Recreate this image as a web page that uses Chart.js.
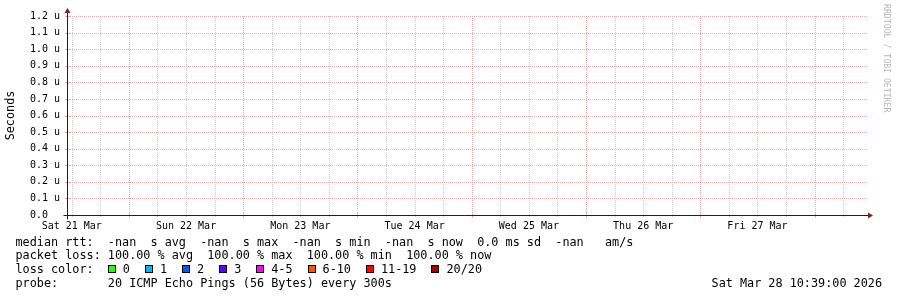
<!DOCTYPE html>
<html><head><meta charset="utf-8">
<script src="https://cdn.jsdelivr.net/npm/chart.js@4/dist/chart.umd.min.js"></script>
<style>html,body{margin:0;padding:0;background:#fff;}canvas{display:block}</style>
</head><body>
<canvas id="c" width="897" height="297"></canvas>
<script>
// ---- data (hours since Sat 21 Mar 11:00) ----
const xMinHour = 0;
const xMaxHour = 168;
const xTickHours = [1,7,13,19,25,31,37,43,49,55,61,67,73,79,85,91,97,103,109,115,121,127,133,139,145,151,157,163];
const xMajorHours = [13,37,61,85,109,133,157];
const xLabelHours = [1,25,49,73,97,121,145];
const xDayLabels = ['Sat 21 Mar','Sun 22 Mar','Mon 23 Mar','Tue 24 Mar','Wed 25 Mar','Thu 26 Mar','Fri 27 Mar'];
const yTickValues = [0,0.1,0.2,0.3,0.4,0.5,0.6,0.7,0.8,0.9,1.0,1.1,1.2];
const yTickLabels = ['0.0  ','0.1 u','0.2 u','0.3 u','0.4 u','0.5 u','0.6 u','0.7 u','0.8 u','0.9 u','1.0 u','1.1 u','1.2 u'];
// no valid samples in the period (100% packet loss) -> empty series
const rttHours = [];
const medianRtt = [];
const rttStatNames = ['avg','max','min','now'];
const rttStats = ['-nan','-nan','-nan','-nan'];
const sdText = '0.0 ms sd';
const amsText = '-nan   am/s';
const lossStats = ['100.00','100.00','100.00','100.00'];
const lossLabels = ['0','1','2','3','4-5','6-10','11-19','20/20'];
const lossColors = ['#26ff00','#00b8ff','#0059ff','#5e00ff','#ff00ff','#ff5500','#ff0000','#a10000'];
const probeText = '20 ICMP Echo Pings (56 Bytes) every 300s';
const stampText = 'Sat Mar 28 10:39:00 2026';
const watermark = 'RRDTOOL / TOBI OETIKER';

const MONO = '"DejaVu Sans Mono", monospace';
const GRID = 'rgb(204,204,204)';
const MGRID = 'rgb(239,172,172)';
const AXIS = '#1f1f1f';
const ARROW = 'rgb(128,31,31)';

function dotsV(ctx, x, y0, y1, color) {
  ctx.fillStyle = color;
  for (let yy = y1; yy >= y0; yy -= 2) ctx.fillRect(x, yy, 1, 1);
}
function dotsH(ctx, y, x0, x1, color) {
  ctx.fillStyle = color;
  for (let xx = x0; xx <= x1; xx += 2) ctx.fillRect(xx, y, 1, 1);
}

const rrdPlugin = {
  id: 'rrd',
  beforeDatasetsDraw(chart) {
    const {ctx, chartArea: a, scales: {x, y}} = chart;
    ctx.save();
    const top = Math.round(a.top), bot = Math.round(a.bottom), left = Math.round(a.left), right = Math.round(a.right);
    // vertical grid
    xTickHours.forEach(h => {
      const px = Math.round(x.getPixelForValue(h));
      const major = xMajorHours.includes(h);
      const col = major ? MGRID : GRID;
      dotsV(ctx, px, top, bot - 1, col);
      const t = major ? 2 : 1;
      ctx.fillStyle = col;
      ctx.fillRect(px, bot - t, 1, 2 * t + 1);
    });
    // horizontal grid
    yTickValues.forEach(v => {
      const py = Math.round(y.getPixelForValue(v));
      dotsH(ctx, py, left + 1, right, MGRID);
      ctx.fillStyle = MGRID;
      ctx.fillRect(left - 2, py, 5, 1);
    });
    ctx.restore();
  },
  afterDraw(chart) {
    const {ctx, chartArea: a, scales: {x, y}} = chart;
    ctx.save();
    const ox = Math.round(x.getPixelForValue(xMinHour)) + 0.5;
    const oy = Math.round(y.getPixelForValue(0)) + 0.5;
    const xr = Math.round(x.getPixelForValue(xMaxHour));
    const yt = Math.round(y.getPixelForValue(yTickValues[yTickValues.length - 1]));
    ctx.strokeStyle = AXIS; ctx.lineWidth = 1; ctx.setLineDash([]);
    ctx.beginPath(); ctx.moveTo(ox - 4, oy); ctx.lineTo(xr + 1, oy); ctx.stroke();
    ctx.beginPath(); ctx.moveTo(ox, oy + 4); ctx.lineTo(ox, yt - 3); ctx.stroke();
    ctx.fillStyle = ARROW;
    ctx.beginPath(); ctx.moveTo(xr + 1, oy - 3); ctx.lineTo(xr + 1, oy + 3); ctx.lineTo(xr + 6, oy); ctx.closePath(); ctx.fill();
    ctx.beginPath(); ctx.moveTo(ox - 3, yt - 3); ctx.lineTo(ox + 3, yt - 3); ctx.lineTo(ox, yt - 8); ctx.closePath(); ctx.fill();

    // watermark
    ctx.save();
    ctx.translate(886.5, 4);
    ctx.rotate(Math.PI / 2);
    ctx.font = '8.2px ' + MONO;
    ctx.fillStyle = 'rgba(0,0,0,0.3)';
    ctx.textAlign = 'left'; ctx.textBaseline = 'middle';
    ctx.fillText(watermark, 0, 0);
    ctx.restore();

    // legend
    ctx.font = '11.8px ' + MONO;
    ctx.fillStyle = '#000';
    ctx.textAlign = 'left'; ctx.textBaseline = 'alphabetic';
    const lx = 15.5;
    const rows = [245.5, 259.3, 273.1, 286.9];
    const row1 = 'median rtt:  ' + rttStats.map((v, i) => v + '  s ' + rttStatNames[i]).join('  ') + '  ' + sdText + '  ' + amsText;
    const row2 = 'packet loss: ' + lossStats.map((v, i) => v + ' % ' + rttStatNames[i]).join('  ');
    ctx.fillText(row1, lx, rows[0]);
    ctx.fillText(row2, lx, rows[1]);
    ctx.fillText('loss color:', lx, rows[2]);
    let cx = lx + ctx.measureText('loss color:  ').width;
    lossLabels.forEach((lab, i) => {
      const bx = Math.round(cx);
      ctx.fillStyle = lossColors[i];
      ctx.fillRect(bx, Math.round(rows[2] - 8), 8, 8);
      ctx.strokeStyle = '#000';
      ctx.strokeRect(bx + 0.5, Math.round(rows[2] - 8) + 0.5, 7, 7);
      ctx.fillStyle = '#000';
      const tx = cx + 15;
      ctx.fillText(lab, tx, rows[2]);
      cx = tx + ctx.measureText(lab).width + 15;
    });
    ctx.fillText('probe:       ' + probeText, lx, rows[3]);
    ctx.textAlign = 'right';
    ctx.fillText(stampText, 882, rows[3]);
    ctx.restore();
  }
};

new Chart(document.getElementById('c'), {
  type: 'line',
  data: {
    datasets: [{
      label: 'median rtt',
      data: rttHours.map((h, i) => ({x: h, y: medianRtt[i]})),
      borderColor: '#000', pointRadius: 0, spanGaps: false
    }]
  },
  options: {
    responsive: false,
    animation: false,
    devicePixelRatio: 1,
    layout: {padding: {left: 0, top: 16, right: 30, bottom: 0}},
    plugins: {legend: {display: false}, tooltip: {enabled: false}},
    scales: {
      x: {
        type: 'linear', min: xMinHour, max: xMaxHour,
        grid: {display: false, drawTicks: false},
        border: {display: false},
        afterBuildTicks: s => { s.ticks = xTickHours.map(v => ({value: v})); },
        afterFit: s => { s.height = 82; },
        ticks: {
          autoSkip: false, maxRotation: 0, minRotation: 0, padding: 5,
          font: {family: MONO, size: 10}, color: '#000',
          callback: v => { const k = xLabelHours.indexOf(v); return k >= 0 ? xDayLabels[k] : ''; }
        }
      },
      y: {
        type: 'linear', min: 0, max: 1.2,
        grid: {display: false, drawTicks: false},
        border: {display: false},
        afterBuildTicks: s => { s.ticks = yTickValues.map(v => ({value: v})); },
        afterFit: s => { s.width = 67; },
        ticks: {
          padding: 7, font: {family: MONO, size: 10}, color: '#000',
          callback: (v, i) => yTickLabels[i]
        },
        title: {display: true, text: 'Seconds', color: '#000', font: {family: MONO, size: 11.8}, padding: {top: 4, bottom: 0}}
      }
    }
  },
  plugins: [rrdPlugin]
});
</script>
</body></html>
